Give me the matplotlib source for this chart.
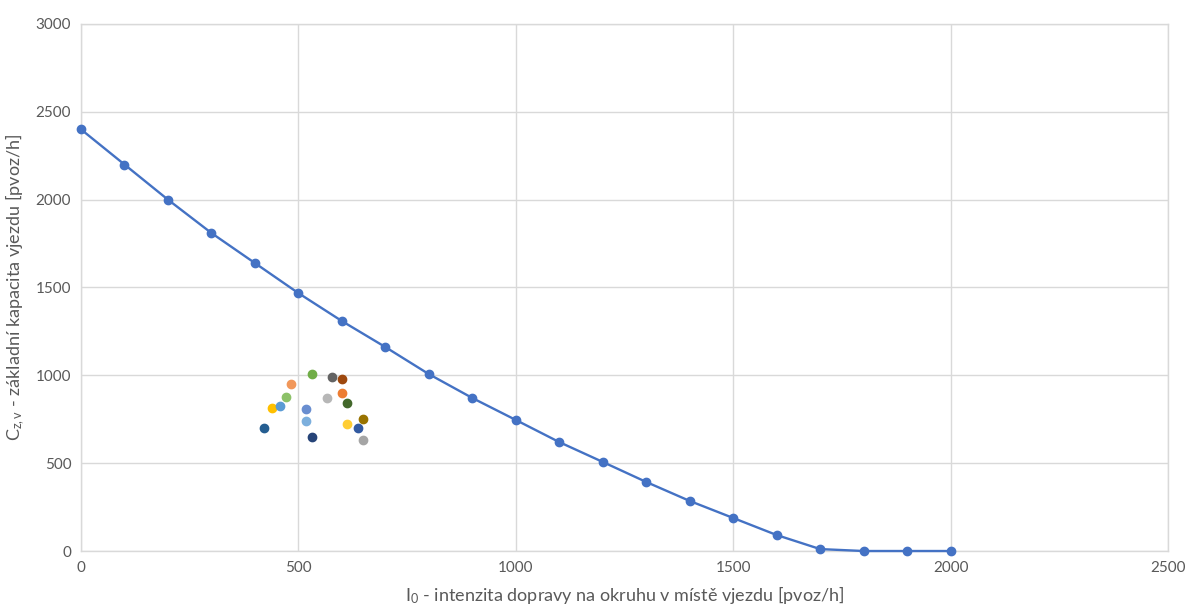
import matplotlib
matplotlib.use("Agg")
import matplotlib.pyplot as plt

plt.rcParams['font.family'] = ['Lato', 'DejaVu Sans']
plt.rcParams['mathtext.fontset'] = 'custom'
plt.rcParams['mathtext.rm'] = 'Lato'
plt.rcParams['mathtext.it'] = 'Lato'

# Capacity curve of the entry
curve_x = [0, 100, 200, 300, 400, 500, 600, 700, 800, 900, 1000,
           1100, 1200, 1300, 1400, 1500, 1600, 1700, 1800, 1900, 2000]
curve_y = [2400, 2200, 2000, 1810, 1639, 1468, 1309, 1161, 1007, 871, 746,
           620, 507, 393, 285, 188, 91, 11, 0, 0, 0]

# Measured entries
meas_x = [483, 471, 440, 458, 422, 531, 518, 518, 531, 565,
          578, 601, 601, 612, 612, 636, 649, 649]
meas_y = [952, 875, 812, 827, 702, 1007, 806, 742, 647, 869,
          992, 979, 899, 840, 723, 702, 750, 632]
meas_colors = ['#F1975A', '#8CC168', '#FFC000', '#5B9BD5', '#255E91',
               '#70AD47', '#698ED0', '#7CAFDD', '#264478', '#B7B7B7',
               '#636363', '#9E480E', '#ED7D31', '#43682B', '#FFCD33',
               '#335AA1', '#997300', '#A5A5A5']

x_ticks = [0, 500, 1000, 1500, 2000, 2500]
y_ticks = [0, 500, 1000, 1500, 2000, 2500, 3000]

fig = plt.figure(figsize=(11.86, 6.10), dpi=100)
ax = fig.add_axes([0.0683, 0.0967, 0.9165, 0.864])

ax.plot(curve_x, curve_y, color='#4472C4', lw=1.7, marker='o', ms=6,
        zorder=3, clip_on=False)
for x, y, c in zip(meas_x, meas_y, meas_colors):
    ax.plot([x], [y], 'o', color=c, ms=6, zorder=4)

ax.set_xlim(0, 2500)
ax.set_ylim(0, 3000)
ax.set_xticks(x_ticks)
ax.set_yticks(y_ticks)
ax.grid(True, color='#D9D9D9', lw=1)
ax.set_axisbelow(True)
for s in ax.spines.values():
    s.set_color('#D9D9D9')
    s.set_linewidth(1)
ax.tick_params(length=0, labelsize=11, colors='#595959', pad=7)

ax.set_xlabel('I$_0$ - intenzita dopravy na okruhu v místě vjezdu [pvoz/h]',
              fontsize=13, color='#595959', labelpad=7)
ax.set_ylabel('C$_{z,v}$ - základní kapacita vjezdu [pvoz/h]',
              fontsize=13, color='#595959', labelpad=6)

fig.savefig('out.png', dpi=100)
